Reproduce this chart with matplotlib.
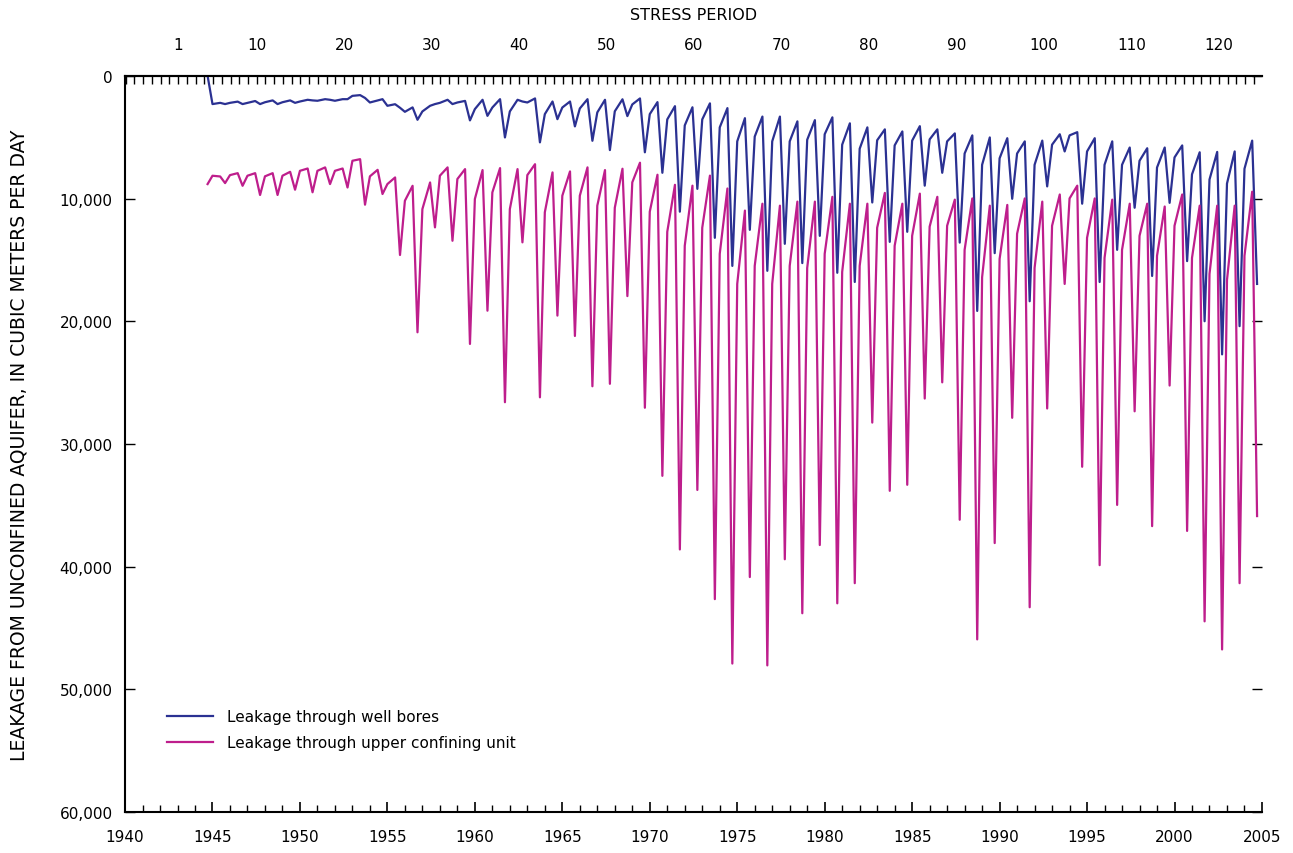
import matplotlib
matplotlib.use("Agg")
import matplotlib.pyplot as plt
import numpy as np

# three values per year: ~Jan 1, ~mid June, ~late Sept (end of pumping season)
season_offsets = [0.0, 0.44, 0.72]
years = list(range(1944, 2005))
nan = np.nan

# leakage through well bores, m3/d
wb_jan = [nan, 2300, 2200, 2200, 2150, 2150, 2090, 2030, 2030, 1630, 2170, 2440, 2930, 2900,
          2200, 2170, 2710, 2580, 2900, 2170, 3120, 2580, 2660, 2980, 2890, 2330, 3120, 3550,
          4040, 3550, 4200, 5340, 4950, 5340, 5340, 5210, 4760, 5610, 5940, 5250, 5670, 5280,
          5180, 5340, 6330, 7250, 6720, 6330, 7250, 5610, 4850, 6160, 7250, 7250, 6920, 7470,
          6650, 8030, 8450, 8780, 7570]
wb_jun = [nan, 2200, 2100, 2050, 2000, 2000, 1950, 1900, 1900, 1570, 2000, 2310, 2570, 2440,
          1950, 2040, 1950, 1900, 1950, 1840, 2090, 2090, 1900, 1950, 1910, 1840, 2140, 2470,
          2560, 2240, 2630, 3450, 3320, 3320, 3710, 3610, 3380, 3870, 4200, 4360, 4530, 4100,
          4360, 4690, 4850, 5020, 5080, 5340, 5280, 4760, 4590, 5080, 5340, 5840, 5900, 5840,
          5670, 6230, 6200, 6160, 5280]
wb_sep = [0, 2300, 2300, 2300, 2300, 2200, 2000, 1950, 1900, 1800, 1900, 2600, 3580, 2300,
          2300, 3630, 3260, 5020, 2090, 5420, 3530, 4120, 5290, 6050, 3280, 6230, 7900, 11070,
          9210, 13200, 15490, 12550, 15890, 13690, 15260, 13040, 16050, 16800, 10320, 13530,
          12710, 8950, 7900, 13590, 19160, 14450, 10020, 18370, 9010, 6160, 10420, 16800, 14180,
          10750, 16310, 10350, 15100, 20000, 22700, 20400, 16960]

# leakage through upper confining unit, m3/d
cu_jan = [nan, 8140, 8090, 8140, 8190, 8140, 7740, 7740, 7740, 6920, 8190, 8820, 10180, 10860,
          8140, 8410, 10040, 9500, 10860, 8090, 11120, 9770, 9770, 10580, 10750, 8680, 11070,
          12710, 13850, 12380, 14510, 16960, 15490, 16960, 15490, 15660, 14510, 15980, 15490,
          12380, 13850, 13040, 12290, 12220, 14180, 16410, 14920, 12870, 15660, 12220, 9990,
          13200, 14840, 14180, 13040, 14670, 12220, 14840, 16150, 16640, 14670]
cu_jun = [nan, 8200, 7930, 7930, 7930, 7820, 7550, 7460, 7550, 6790, 7660, 8280, 8960, 8690,
          7460, 7600, 7680, 7520, 7600, 7200, 7870, 7790, 7460, 7680, 7570, 7080, 8060, 8880,
          8950, 8130, 9180, 10980, 10420, 10580, 10250, 10250, 9860, 10420, 10420, 9540, 10420,
          9600, 9860, 10090, 9990, 10580, 10520, 9990, 10250, 9670, 8950, 9990, 10090, 10420,
          10420, 10650, 9670, 10580, 10580, 10580, 9440]
cu_sep = [8820, 8740, 8960, 9710, 9710, 9280, 9490, 8820, 9100, 10500, 9630, 14600, 20900,
          12350, 13440, 21850, 19140, 26600, 13570, 26200, 19540, 21200, 25300, 25100, 17950,
          27050, 32600, 38600, 33750, 42650, 47900, 40850, 48050, 39400, 43800, 38240, 42990,
          41350, 28260, 33820, 33330, 26300, 24980, 36180, 45930, 38080, 27870, 43310, 27110,
          16960, 31860, 39880, 34970, 27340, 36700, 25240, 37090, 44460, 46750, 41350, 35880]


def flatten(jan, jun, sep):
    t, v = [], []
    for i, yr in enumerate(years):
        for off, val in zip(season_offsets, (jan[i], jun[i], sep[i])):
            if not np.isnan(val):
                t.append(yr + off)
                v.append(val)
    return np.array(t), np.array(v)


# stress period <-> decimal year (two periods per year)
sp1_year = 1943.03
def yr2sp(y):
    return 2 * (np.asarray(y) - sp1_year) + 1
def sp2yr(p):
    return sp1_year + (np.asarray(p) - 1) / 2

blue = "#2B3192"
magenta = "#BE1E8C"

fig = plt.figure(figsize=(12.93, 8.54), dpi=100)
ax = fig.add_axes([0.0967, 0.048, 0.8793, 0.862])

t, v = flatten(wb_jan, wb_jun, wb_sep)
ax.plot(t, v, color=blue, lw=1.6, label="Leakage through well bores")
t, v = flatten(cu_jan, cu_jun, cu_sep)
ax.plot(t, v, color=magenta, lw=1.6, label="Leakage through upper confining unit")

ax.set_xlim(1940, 2005)
ax.set_ylim(60000, 0)
ax.set_xticks(range(1940, 2006, 5))
ax.set_xticks(range(1940, 2006), minor=True)
ax.set_yticks(range(0, 60001, 10000))
ax.set_yticklabels(["{:,}".format(y) for y in range(0, 60001, 10000)])
ax.tick_params(axis="x", which="major", direction="in", length=7, width=1.2,
               pad=12, labelsize=11, top=False)
ax.tick_params(axis="x", which="minor", direction="in", length=5, width=1.0, top=False)
ax.tick_params(axis="y", direction="in", length=7, width=1.0, right=True,
               labelsize=11, pad=9)
ax.spines["right"].set_visible(False)
for s in ("left", "bottom", "top"):
    ax.spines[s].set_linewidth(1.5)

ax.set_ylabel("LEAKAGE FROM UNCONFINED AQUIFER, IN CUBIC METERS PER DAY",
              fontsize=13.5, labelpad=22)

sec = ax.secondary_xaxis("top", functions=(yr2sp, sp2yr))
sec.set_xticks([1] + list(range(10, 121, 10)))
sec.set_xticks(range(-5, 125), minor=True)
sec.tick_params(axis="x", which="both", direction="in", length=6, width=1.0,
                pad=17, labelsize=11)
sec.spines["top"].set_linewidth(1.5)
sec.set_xlabel("STRESS PERIOD", fontsize=11.5, labelpad=13)

ax.legend(loc="upper left", bbox_to_anchor=(0.025, 0.158), frameon=False,
          fontsize=11, handlelength=3.0, handletextpad=0.9, labelspacing=0.7)

fig.savefig("out.png", dpi=100)
